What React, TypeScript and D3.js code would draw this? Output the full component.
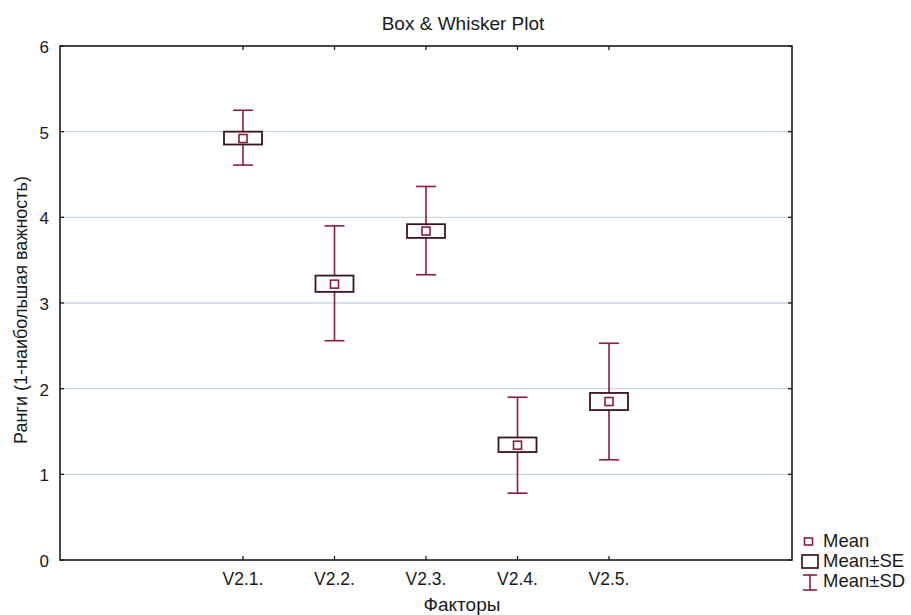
import React from "react";
import * as d3 from "d3";

const categories = ["V2.1.", "V2.2.", "V2.3.", "V2.4.", "V2.5."];
const means = [4.92, 3.22, 3.84, 1.34, 1.85];
const seLow = [4.85, 3.13, 3.76, 1.26, 1.75];
const seHigh = [5.00, 3.32, 3.92, 1.43, 1.95];
const sdLow = [4.61, 2.56, 3.33, 0.78, 1.17];
const sdHigh = [5.25, 3.90, 4.36, 1.90, 2.53];
const yTicks = [0, 1, 2, 3, 4, 5, 6];
const legendItems = ["Mean", "Mean±SE", "Mean±SD"];

const W = 911;
const H = 615;
const M = { left: 60, right: 792, top: 46, bottom: 560 };
const WHISKER = "#8c1c3c";
const BOX = "#3a1420";
const FONT = "'Liberation Sans', Arial, sans-serif";

export default function App() {
  const x = d3.scaleLinear().domain([0, 8]).range([M.left, M.right]);
  const y = d3.scaleLinear().domain([0, 6]).range([M.bottom, M.top]);
  const boxW = 38;
  const capW = 20;
  const mk = 8;

  return (
    <svg width={W} height={H} style={{ position: "absolute", left: 0, top: 0, background: "#fff" }}>
      <rect x={0} y={0} width={W} height={H} fill="#fff" />
      {yTicks.filter(t => t > 0 && t < 6).map(t => (
        <line key={"g" + t} x1={M.left} x2={M.right} y1={y(t)} y2={y(t)} stroke="#c9d6e6" strokeWidth={1.3} />
      ))}
      <rect x={M.left} y={M.top} width={M.right - M.left} height={M.bottom - M.top} fill="none" stroke="#1a1a1a" strokeWidth={1.6} />
      {yTicks.map(t => (
        <g key={"y" + t}>
          <line x1={M.left} x2={M.left + 4} y1={y(t)} y2={y(t)} stroke="#1a1a1a" strokeWidth={1.3} />
          <line x1={M.right} x2={M.right - 4} y1={y(t)} y2={y(t)} stroke="#1a1a1a" strokeWidth={1.3} />
          <text x={49} y={y(t) + 7} textAnchor="end" fontFamily={FONT} fontSize={17} fill="#1a1a1a">{t}</text>
        </g>
      ))}
      {categories.map((c, i) => (
        <g key={"x" + c}>
          <line x1={x(i + 2)} x2={x(i + 2)} y1={M.bottom} y2={M.bottom - 4} stroke="#1a1a1a" strokeWidth={1.3} />
          <line x1={x(i + 2)} x2={x(i + 2)} y1={M.top} y2={M.top + 4} stroke="#1a1a1a" strokeWidth={1.3} />
          <text x={x(i + 2)} y={585} textAnchor="middle" fontFamily={FONT} fontSize={17.5} fill="#1a1a1a">{c}</text>
        </g>
      ))}
      {categories.map((c, i) => {
        const cx = x(i + 2);
        return (
          <g key={"b" + c}>
            <line x1={cx} x2={cx} y1={y(sdHigh[i])} y2={y(sdLow[i])} stroke={WHISKER} strokeWidth={1.6} />
            <line x1={cx - capW / 2} x2={cx + capW / 2} y1={y(sdHigh[i])} y2={y(sdHigh[i])} stroke={WHISKER} strokeWidth={1.6} />
            <line x1={cx - capW / 2} x2={cx + capW / 2} y1={y(sdLow[i])} y2={y(sdLow[i])} stroke={WHISKER} strokeWidth={1.6} />
            <rect x={cx - boxW / 2} y={y(seHigh[i])} width={boxW} height={y(seLow[i]) - y(seHigh[i])} fill="#fff" stroke={BOX} strokeWidth={1.8} />
            <rect x={cx - mk / 2} y={y(means[i]) - mk / 2} width={mk} height={mk} fill="#fff" stroke={WHISKER} strokeWidth={1.6} />
          </g>
        );
      })}
      <text x={463} y={30} textAnchor="middle" fontFamily={FONT} fontSize={19} fill="#1a1a1a">Box &amp; Whisker Plot</text>
      <text x={462} y={611} textAnchor="middle" fontFamily={FONT} fontSize={19} fill="#1a1a1a">Факторы</text>
      <text transform={`translate(27, 310) rotate(-90)`} textAnchor="middle" fontFamily={FONT} fontSize={18} fill="#1a1a1a">Ранги (1-наибольшая важность)</text>
      <g>
        <rect x={804.5} y={538} width={8} height={7} fill="#fff" stroke={WHISKER} strokeWidth={1.6} />
        <rect x={802} y={555} width={16} height={13} fill="#fff" stroke={BOX} strokeWidth={1.7} />
        <line x1={810} x2={810} y1={575} y2={590} stroke={WHISKER} strokeWidth={1.6} />
        <line x1={803} x2={817} y1={575} y2={575} stroke={WHISKER} strokeWidth={1.6} />
        <line x1={803} x2={817} y1={590} y2={590} stroke={WHISKER} strokeWidth={1.6} />
        {legendItems.map((t, i) => (
          <text key={t} x={823} y={547 + i * 20} fontFamily={FONT} fontSize={18.5} fill="#1a1a1a">{t}</text>
        ))}
      </g>
    </svg>
  );
}
